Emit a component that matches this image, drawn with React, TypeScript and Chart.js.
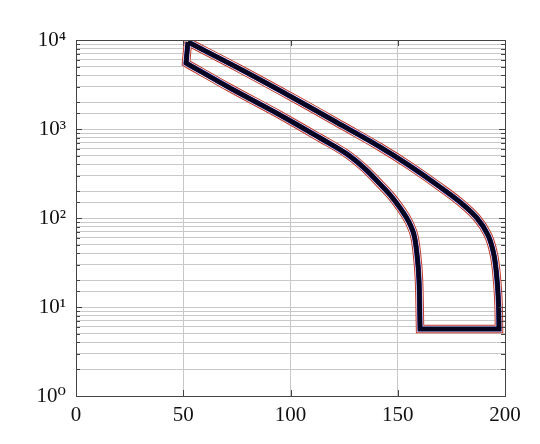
import React, { useEffect, useRef } from "react";
import { Chart, registerables } from "chart.js";

Chart.register(...registerables);

// Closed boundary of the region (x, y), traced clockwise from the upper-left corner.
// Corner points are repeated so the smoothed outline keeps sharp corners.
const boundaryX = [
  52.2, 52.2, 76.5, 103.0, 125.4, 141.7, 155.7, 169.7, 179.0, 186.9, 192.1, 194.9, 196.3, 197.0, 197.2, 197.2,
  160.4, 160.4, 159.9, 159.0, 157.6, 155.2, 152.4, 147.3, 141.7, 134.3, 126.3, 113.8, 95.1, 71.8, 51.3, 51.3,
  52.2, 52.2,
];
const boundaryY = [
  9500, 9500, 4720, 2120, 1052, 628, 384, 223, 151, 100, 64, 38, 20, 10.5, 5.66, 5.66,
  5.66, 5.66, 20.1, 38.4, 64.4, 90.2, 117, 172, 241, 365, 524, 792, 1437, 2890, 5520, 5520,
  9500, 9500,
];

const xTicks = [0, 50, 100, 150, 200];
const X_MIN = 0;
const X_MAX = 200;
const Y_MIN = 1;
const Y_MAX = 10000;

const SUP: Record<string, string> = { "0": "⁰", "1": "¹", "2": "²", "3": "³", "4": "⁴", "5": "⁵" };

const FONT = "'Liberation Serif', 'DejaVu Serif', serif";

export default function App() {
  const ref = useRef<HTMLCanvasElement | null>(null);

  useEffect(() => {
    if (!ref.current) return;
    const pts = boundaryX.map((x, i) => ({ x, y: boundaryY[i] }));

    const framePlugin = {
      id: "frame",
      afterDraw(chart: any) {
        const { ctx, chartArea, scales } = chart;
        const { left, right, top, bottom } = chartArea;
        ctx.save();
        ctx.strokeStyle = "#444";
        ctx.lineWidth = 1;
        const yScale = scales.y;
        yScale.ticks.forEach((t: any) => {
          const p = Math.round(yScale.getPixelForValue(t.value)) + 0.5;
          const major = Math.abs(Math.log10(t.value) - Math.round(Math.log10(t.value))) < 1e-9;
          const len = major ? 6 : 4;
          ctx.beginPath();
          ctx.moveTo(left, p);
          ctx.lineTo(left + len, p);
          ctx.moveTo(right, p);
          ctx.lineTo(right - len, p);
          ctx.stroke();
        });
        const xScale = scales.x;
        xScale.ticks.forEach((t: any) => {
          const p = Math.round(xScale.getPixelForValue(t.value)) + 0.5;
          ctx.beginPath();
          ctx.moveTo(p, bottom);
          ctx.lineTo(p, bottom - 6);
          ctx.moveTo(p, top);
          ctx.lineTo(p, top + 6);
          ctx.stroke();
        });
        ctx.strokeRect(Math.round(left) + 0.5, Math.round(top) + 0.5, Math.round(right - left), Math.round(bottom - top));
        ctx.restore();
      },
    };

    const mk = (color: string, width: number, order: number) => ({
      data: pts,
      showLine: true,
      borderColor: color,
      backgroundColor: color,
      borderWidth: width,
      pointRadius: 0,
      tension: 0.35,
      fill: false,
      borderJoinStyle: "miter" as const,
      order,
    });

    const chart = new Chart(ref.current, {
      type: "scatter",
      data: {
        datasets: [
          mk("#c0392b", 8.5, 4),
          mk("#ffffff", 6.5, 3),
          mk("#2020a0", 5.2, 2),
          mk("#05051f", 4.4, 1),
        ],
      },
      options: {
        responsive: false,
        animation: false,
        layout: { padding: { top: 40, right: 35, left: 0, bottom: 0 } },
        plugins: { legend: { display: false }, tooltip: { enabled: false } },
        scales: {
          x: {
            type: "linear",
            min: X_MIN,
            max: X_MAX,
            afterBuildTicks: (axis: any) => {
              axis.ticks = xTicks.map((v) => ({ value: v }));
            },
            afterFit: (axis: any) => {
              axis.height = 48;
            },
            grid: { color: "#c8c8c8", lineWidth: 1, drawTicks: false },
            border: { display: false },
            ticks: {
              color: "#111",
              padding: 7,
              font: { family: FONT, size: 21 },
              maxRotation: 0,
              autoSkip: false,
            },
          },
          y: {
            type: "logarithmic",
            min: Y_MIN,
            max: Y_MAX,
            afterFit: (axis: any) => {
              axis.width = 76;
            },
            grid: { color: "#c8c8c8", lineWidth: 1, drawTicks: false },
            border: { display: false },
            ticks: {
              color: "#111",
              padding: 10,
              autoSkip: false,
              font: { family: FONT, size: 21 },
              callback: (value: any) => {
                const l = Math.log10(Number(value));
                if (Math.abs(l - Math.round(l)) < 1e-9) {
                  return "10" + (SUP[String(Math.round(l))] || "");
                }
                return "";
              },
            },
          },
        },
      },
      plugins: [framePlugin],
    });
    return () => chart.destroy();
  }, []);

  return (
    <div style={{ position: "absolute", left: 0, top: 0, width: 540, height: 444, background: "#fff" }}>
      <canvas ref={ref} width={540} height={444} style={{ display: "block", width: 540, height: 444 }} />
    </div>
  );
}
